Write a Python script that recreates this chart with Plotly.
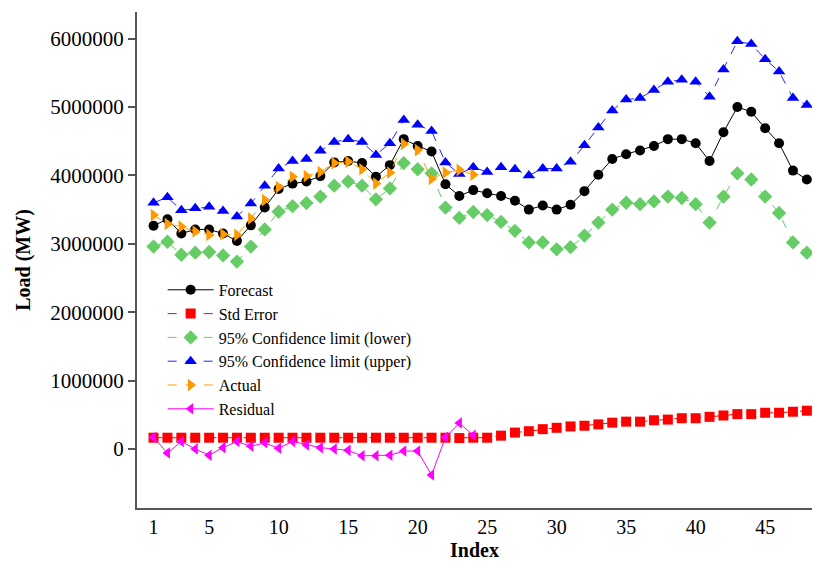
import plotly.graph_objects as go

index = list(range(1, 49))

forecast = [3265000, 3360000, 3150000, 3210000, 3210000, 3150000, 3040000, 3270000, 3530000, 3800000,
            3880000, 3910000, 3990000, 4190000, 4210000, 4180000, 3980000, 4150000, 4530000, 4430000,
            4350000, 3870000, 3700000, 3785000, 3740000, 3700000, 3630000, 3500000, 3560000, 3500000,
            3570000, 3770000, 4010000, 4240000, 4310000, 4365000, 4430000, 4530000, 4530000, 4470000,
            4210000, 4630000, 5000000, 4930000, 4690000, 4470000, 4070000, 3940000]

std_error = [165000, 165000, 165000, 165000, 165000, 165000, 165000, 165000, 165000, 165000,
             165000, 165000, 165000, 165000, 165000, 165000, 165000, 165000, 165000, 165000,
             165000, 165000, 160000, 165000, 165000, 195000, 240000, 260000, 290000, 310000,
             330000, 340000, 360000, 385000, 400000, 400000, 420000, 430000, 450000, 450000,
             470000, 490000, 510000, 510000, 530000, 530000, 545000, 560000]

lower = [2960000, 3030000, 2840000, 2870000, 2880000, 2830000, 2740000, 2960000, 3210000, 3470000,
         3550000, 3595000, 3690000, 3850000, 3910000, 3850000, 3650000, 3810000, 4180000, 4090000,
         4030000, 3530000, 3380000, 3465000, 3420000, 3320000, 3190000, 3020000, 3020000, 2920000,
         2950000, 3120000, 3310000, 3500000, 3600000, 3580000, 3620000, 3690000, 3670000, 3580000,
         3310000, 3690000, 4030000, 3940000, 3690000, 3450000, 3020000, 2870000]

upper = [3600000, 3680000, 3490000, 3520000, 3540000, 3480000, 3400000, 3590000, 3850000, 4100000,
         4210000, 4240000, 4360000, 4490000, 4530000, 4490000, 4300000, 4470000, 4810000, 4740000,
         4650000, 4190000, 4020000, 4120000, 4050000, 4120000, 4090000, 4000000, 4100000, 4100000,
         4200000, 4440000, 4700000, 4950000, 5110000, 5130000, 5250000, 5370000, 5400000, 5370000,
         5150000, 5550000, 5960000, 5920000, 5700000, 5520000, 5130000, 5030000]

actual_index = list(range(1, 25))
actual = [3420000, 3290000, 3250000, 3180000, 3130000, 3140000, 3130000, 3370000, 3640000, 3830000,
          3980000, 3990000, 4050000, 4180000, 4200000, 4090000, 3880000, 4040000, 4460000, 4370000,
          3950000, 4040000, 4080000, 4010000]

residual = [170000, -60000, 110000, 0, -90000, 20000, 110000, 40000, 90000, 10000,
            110000, 60000, 20000, 0, -20000, -100000, -100000, -90000, -30000, -30000,
            -380000, 170000, 380000, 200000]

x_ticks = [1, 5, 10, 15, 20, 25, 30, 35, 40, 45]
y_ticks = [0, 1000000, 2000000, 3000000, 4000000, 5000000, 6000000]

FONT = "Liberation Serif, Times New Roman, serif"
X_RANGE = [-0.19, 48.37]

fig = go.Figure()
fig.add_trace(go.Scatter(x=index, y=forecast, name="Forecast", mode="lines+markers",
                         line=dict(color="black", width=1),
                         marker=dict(symbol="circle", size=10, color="black")))
fig.add_trace(go.Scatter(x=index, y=std_error, name="Std Error", mode="lines+markers",
                         line=dict(color="#ff0000", width=1, dash="dash"),
                         marker=dict(symbol="square", size=10, color="#ff0000")))
fig.add_trace(go.Scatter(x=index, y=lower, name="95% Confidence limit (lower)", mode="lines+markers",
                         line=dict(color="#66cc66", width=1, dash="dash"),
                         marker=dict(symbol="diamond", size=11, color="#66cc66")))
fig.add_trace(go.Scatter(x=index, y=upper, name="95% Confidence limit (upper)", mode="lines+markers",
                         line=dict(color="#2222ff", width=1, dash="dash"),
                         marker=dict(symbol="triangle-up", size=11, color="#0000ff")))
fig.add_trace(go.Scatter(x=actual_index, y=actual, name="Actual", mode="lines+markers",
                         line=dict(color="#ff9900", width=1, dash="dash"),
                         marker=dict(symbol="triangle-right", size=11, color="#ff9900")))
fig.add_trace(go.Scatter(x=actual_index, y=residual, name="Residual", mode="lines+markers",
                         line=dict(color="#ff00ff", width=1),
                         marker=dict(symbol="triangle-left", size=10, color="#ff00ff")))

fig.update_layout(
    width=814, height=561,
    margin=dict(l=137, r=2, t=12, b=53),
    plot_bgcolor="white", paper_bgcolor="white",
    font=dict(family=FONT, color="black", size=18),
    showlegend=True,
    legend=dict(x=0.038, y=0.474, xanchor="left", yanchor="top",
                bgcolor="rgba(0,0,0,0)", borderwidth=0,
                font=dict(family=FONT, size=16, color="black"),
                itemwidth=46, tracegroupgap=0),
    xaxis=dict(range=X_RANGE, tickmode="array", tickvals=x_ticks,
               ticks="", showticklabels=True,
               showline=True, linecolor="#555", linewidth=2, showgrid=False, zeroline=False,
               automargin=False,
               tickfont=dict(family=FONT, size=20),
               title=dict(text="<b>Index</b>", font=dict(family=FONT, size=20), standoff=6)),
    xaxis2=dict(range=X_RANGE, tickmode="array", tickvals=x_ticks, overlaying="x",
                anchor="y", side="bottom",
                ticks="outside", ticklen=7, tickcolor="#555", tickwidth=1.5,
                showticklabels=False, showline=False, showgrid=False, zeroline=False,
                automargin=False),
    yaxis=dict(range=[-862600, 6389000], tickmode="array", tickvals=y_ticks,
               ticktext=[str(v) for v in y_ticks],
               ticks="outside", ticklen=7, tickcolor="#555", tickwidth=1.5,
               showline=True, linecolor="#555", linewidth=2, showgrid=False, zeroline=False,
               automargin=False, ticklabelstandoff=0,
               tickfont=dict(family=FONT, size=21),
               title=dict(text="<b>Load (MW)</b>", font=dict(family=FONT, size=20), standoff=14)),
)

fig.write_html("out.html")
